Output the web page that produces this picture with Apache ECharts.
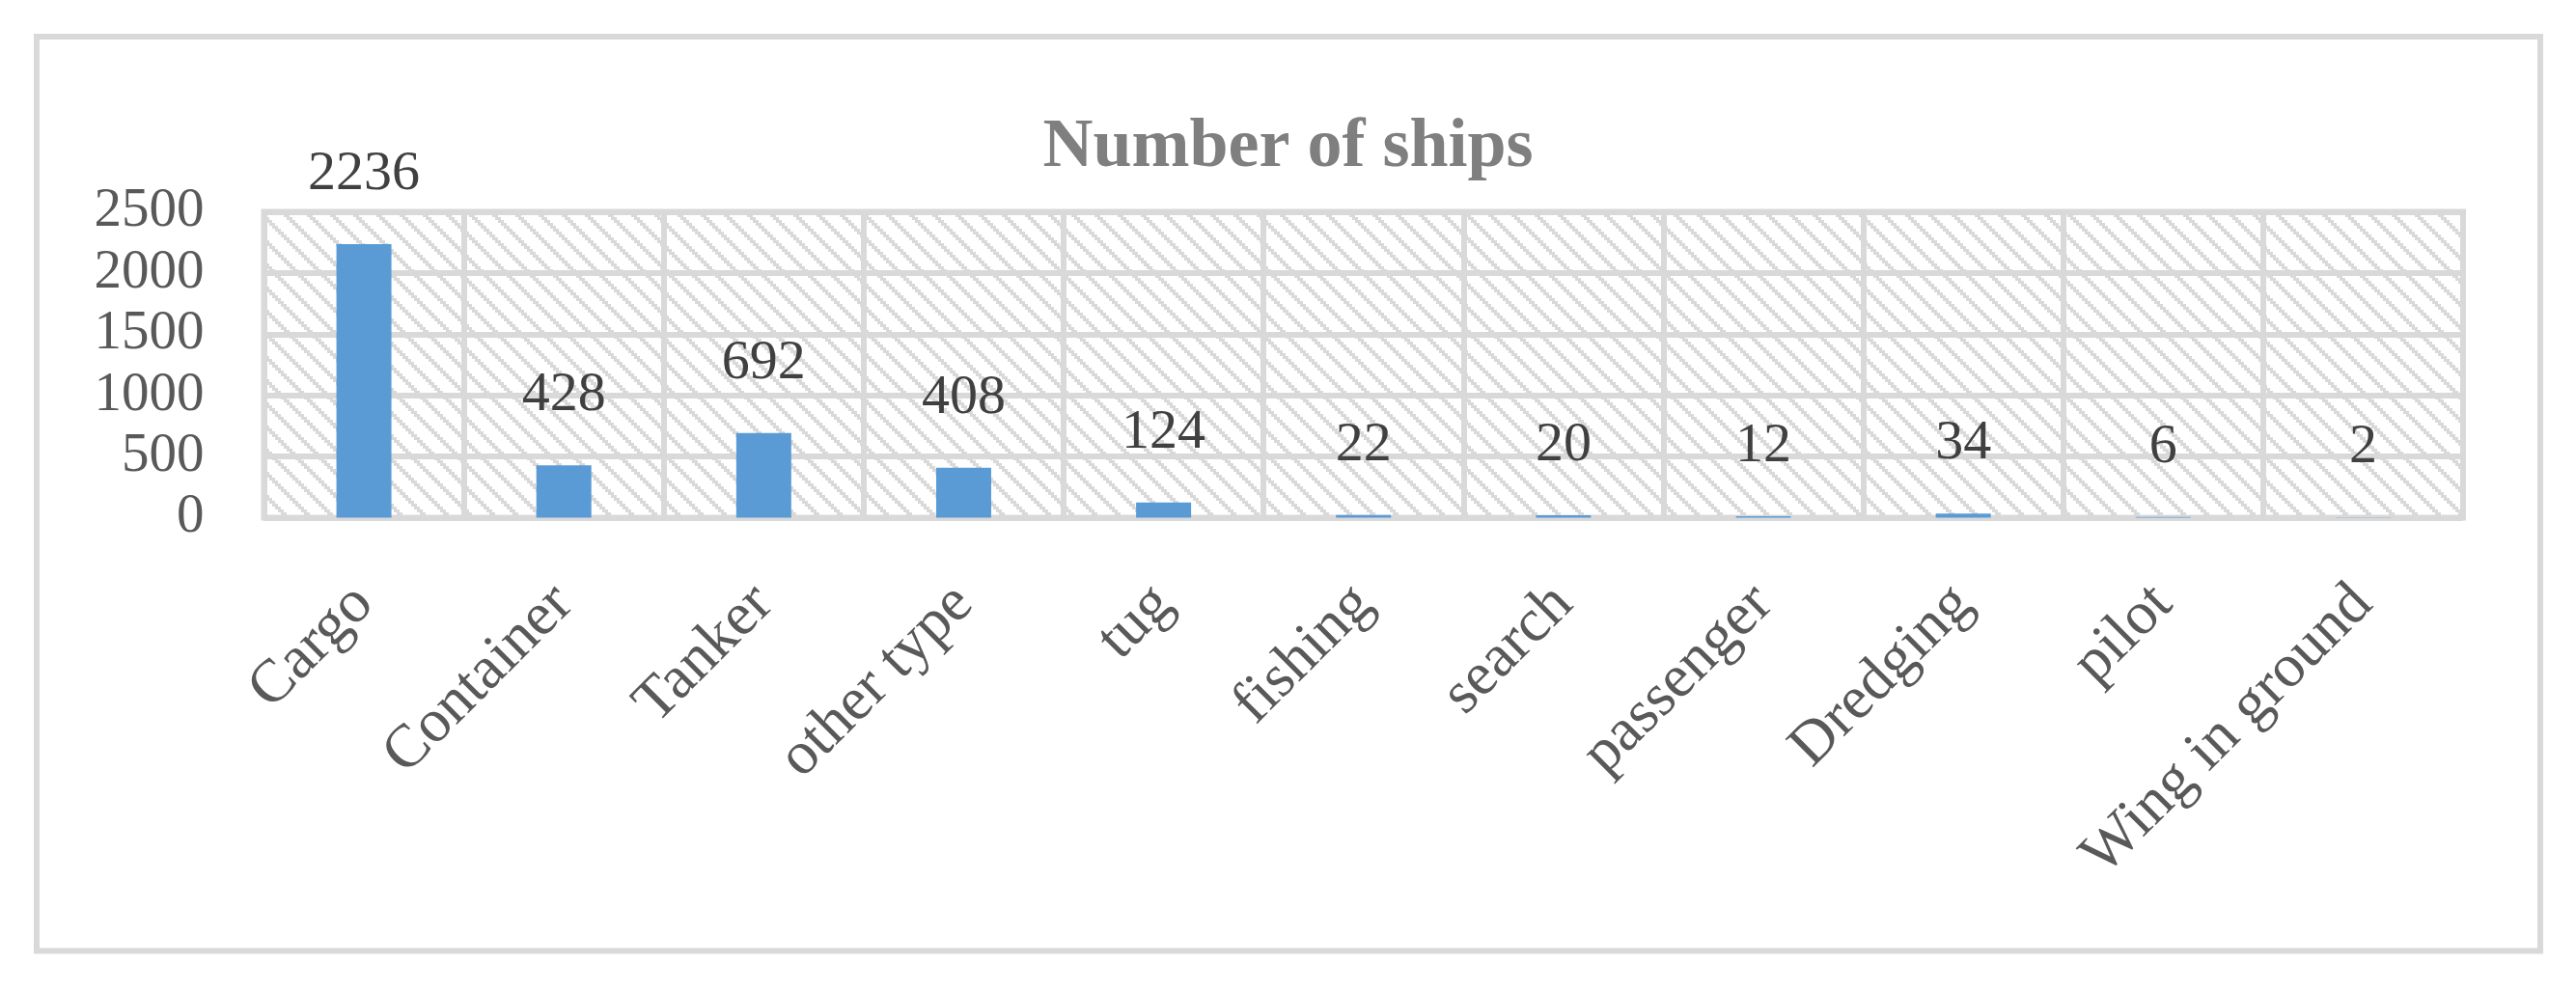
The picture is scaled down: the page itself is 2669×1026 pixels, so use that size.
<!DOCTYPE html>
<html>
<head>
<meta charset="utf-8">
<script src="https://cdn.jsdelivr.net/npm/echarts@6/dist/echarts.min.js"></script>
<style>
html,body{margin:0;padding:0;background:#ffffff;}
#chart{width:2669px;height:1026px;}
</style>
</head>
<body>
<div id="chart"></div>
<script>
const chartTitle = 'Number of ships';
const categories = ['Cargo', 'Container', 'Tanker', 'other type', 'tug', 'fishing', 'search', 'passenger', 'Dredging', 'pilot', 'Wing in ground'];
const shipCounts = [2236, 428, 692, 408, 124, 22, 20, 12, 34, 6, 2];
const yMin = 0;
const yMax = 2500;
const yStep = 500;

// hatch pattern (downward diagonal, light grey)
function makeHatch() {
  const cell = 3, n = 8;
  const c = document.createElement('canvas');
  c.width = cell * n; c.height = cell * n;
  const ctx = c.getContext('2d');
  ctx.fillStyle = '#ffffff';
  ctx.fillRect(0, 0, c.width, c.height);
  ctx.fillStyle = '#d9d9d9';
  for (let r = 0; r < n; r++) {
    for (let k = 0; k < 2; k++) {
      const col = (r + k) % n;
      ctx.fillRect(col * cell, r * cell, cell, cell);
    }
  }
  return c;
}

const chart = echarts.init(document.getElementById('chart'), null, {renderer: 'canvas'});
const serif = '"Liberation Serif", "Times New Roman", serif';

chart.setOption({
  backgroundColor: '#ffffff',
  animation: false,
  title: {
    text: chartTitle,
    left: 'center',
    top: 117,
    padding: 0,
    textStyle: {fontFamily: serif, fontWeight: 'bold', fontSize: 72, color: '#7f7f7f', lineHeight: 72}
  },
  graphic: [{
    type: 'rect',
    silent: true,
    shape: {x: 38, y: 38, width: 2594, height: 947.5},
    style: {fill: 'none', stroke: '#d9d9d9', lineWidth: 6}
  }],
  grid: {
    left: 273.5, right: 117, top: 219.5, bottom: 489.5,
    show: true,
    borderColor: '#d9d9d9',
    borderWidth: 6,
    backgroundColor: {image: makeHatch(), repeat: 'repeat'},
    containLabel: false
  },
  xAxis: {
    type: 'category',
    data: categories,
    axisLine: {show: false},
    axisTick: {show: false},
    splitLine: {show: true, lineStyle: {color: '#d9d9d9', width: 6}},
    axisLabel: {
      interval: 0, rotate: 45, margin: 80,
      fontFamily: serif, fontSize: 63, color: '#595959'
    }
  },
  yAxis: {
    type: 'value',
    min: yMin, max: yMax, interval: yStep,
    axisLine: {show: false},
    axisTick: {show: false},
    splitLine: {show: true, lineStyle: {color: '#d9d9d9', width: 6}},
    axisLabel: {
      margin: 62, fontFamily: serif, fontSize: 57, color: '#595959',
      padding: [0, 0, 6, 0],
      formatter: function (v) { return String(v); }
    }
  },
  series: [{
    type: 'bar',
    data: shipCounts,
    barWidth: 57,
    itemStyle: {color: '#5b9bd5'},
    label: {
      show: true, position: 'top', distance: 43,
      fontFamily: serif, fontSize: 58, lineHeight: 58, color: '#404040'
    }
  }]
});
</script>
</body>
</html>
